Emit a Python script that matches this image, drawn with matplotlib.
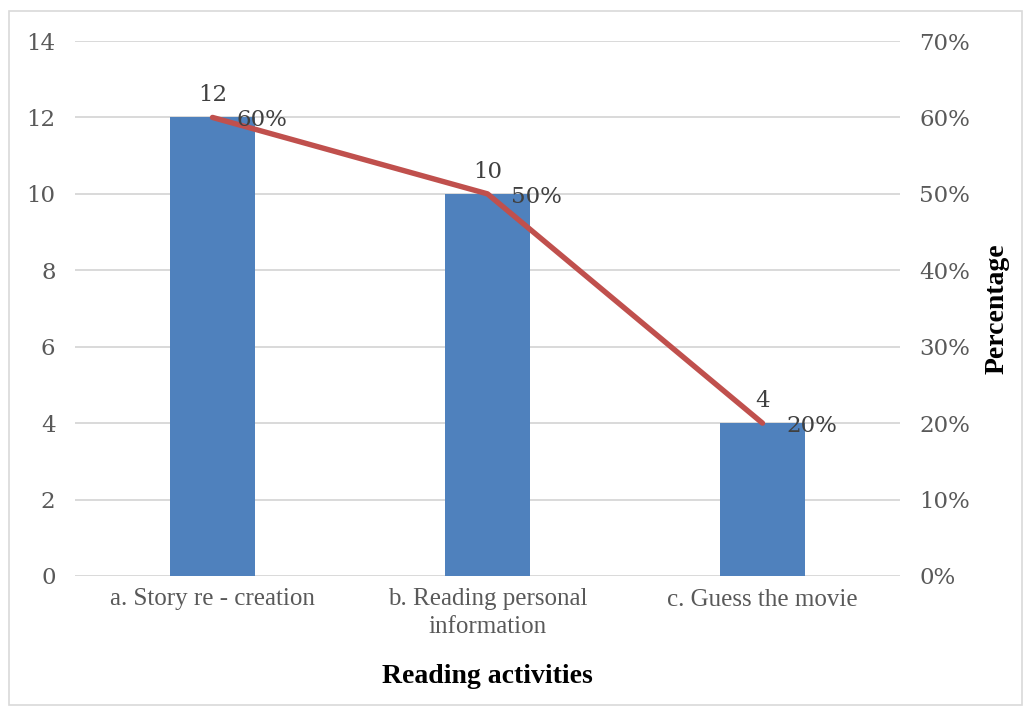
import matplotlib
matplotlib.use("Agg")
import matplotlib.pyplot as plt
from matplotlib.patches import Rectangle
from matplotlib.ticker import FuncFormatter

categories = ["a. Story re - creation", "b. Reading personal\ninformation", "c. Guess the movie"]
counts = [12, 10, 4]
percentages = [0.60, 0.50, 0.20]

count_ticks = [0, 2, 4, 6, 8, 10, 12, 14]
pct_ticks = [0.0, 0.1, 0.2, 0.3, 0.4, 0.5, 0.6, 0.7]

bar_color = "#4F81BD"
line_color = "#C0504D"
grid_color = "#D9D9D9"
tick_color = "#595959"
num_font = "DejaVu Serif"
text_font = "Liberation Serif"

fig = plt.figure(figsize=(10.30, 7.11), dpi=100)
ax = fig.add_axes([75 / 1030, 1 - 576 / 711, 825 / 1030, 535 / 711])

# outer frame around the chart
fig.patches.append(Rectangle((9 / 1030, 6 / 711), 1013 / 1030, 694 / 711,
                             transform=fig.transFigure, fill=False,
                             edgecolor="#D9D9D9", linewidth=1.2))

x = list(range(len(categories)))
ax.bar(x, counts, width=0.31, color=bar_color, zorder=2)
ax.set_xlim(-0.5, 2.5)
ax.set_ylim(0, 14)
ax.set_yticks(count_ticks)
ax.yaxis.grid(True, color=grid_color, linewidth=1.4, zorder=0)
ax.set_axisbelow(True)
for s in ax.spines.values():
    s.set_visible(False)
ax.tick_params(axis="both", length=0, colors=tick_color)
ax.tick_params(axis="y", pad=14)
ax.tick_params(axis="x", pad=9)
for lbl in ax.get_yticklabels():
    lbl.set_fontfamily(num_font)
    lbl.set_fontsize(16.5)
ax.set_xticks(x)
ax.set_xticklabels(categories, fontfamily=text_font, fontsize=18, color=tick_color,
                   linespacing=1.3)
ax.set_xlabel("Reading activities", fontfamily=text_font, fontsize=20,
              fontweight="bold", labelpad=19)

for xi, c in zip(x, counts):
    ax.annotate(str(c), (xi, c), xytext=(0, 8), textcoords="offset points",
                ha="center", va="bottom", fontfamily=num_font, fontsize=16.5,
                color="#404040")

ax2 = ax.twinx()
ax2.set_position(ax.get_position())
ax2.plot(x, percentages, color=line_color, linewidth=3.9, zorder=3,
         solid_capstyle="round")
ax2.set_ylim(0, 0.7)
ax2.set_yticks(pct_ticks)
ax2.yaxis.set_major_formatter(FuncFormatter(lambda v, p: f"{round(v * 100)}%"))
for s in ax2.spines.values():
    s.set_visible(False)
ax2.tick_params(axis="y", length=0, colors=tick_color, pad=14)
for lbl in ax2.get_yticklabels():
    lbl.set_fontfamily(num_font)
    lbl.set_fontsize(16.5)
ax2.set_ylabel("Percentage", fontfamily=text_font, fontsize=20,
               fontweight="bold", labelpad=10)

for xi, p in zip(x, percentages):
    ax2.annotate(f"{round(p * 100)}%", (xi, p), xytext=(17, -2),
                 textcoords="offset points", ha="left", va="center",
                 fontfamily=num_font, fontsize=16.5, color="#404040", zorder=4)

fig.savefig("out.png", dpi=100)
